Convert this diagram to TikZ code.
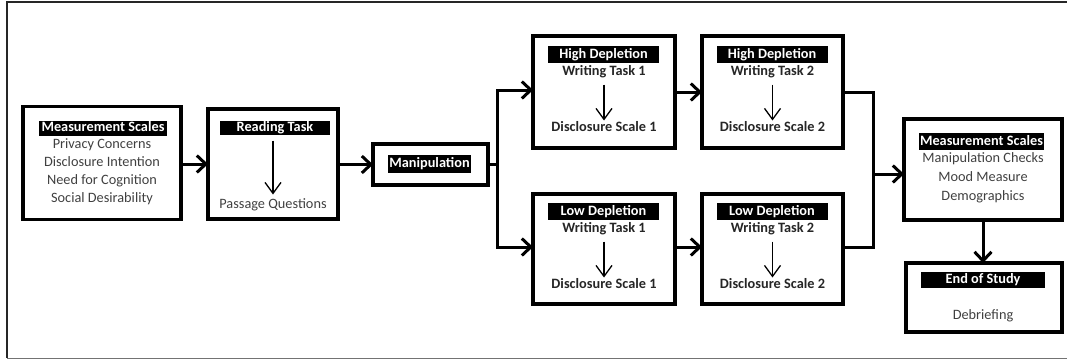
\documentclass[tikz,border=0pt]{standalone}
\usepackage{fontspec}
\setmainfont{Carlito}
\usetikzlibrary{arrows.meta}
\definecolor{txtgray}{HTML}{404040}
\tikzset{
  stagebox/.style={draw=black, line width=3.5pt, inner sep=0pt, outer sep=0pt},
  hdr/.style={fill=black, text=white, font=\fontsize{14.3}{16}\selectfont\bfseries, inner sep=0pt, outer sep=0pt, text height=10pt, text depth=3pt},
  item/.style={text=txtgray, font=\fontsize{14.3}{16}\selectfont, inner sep=0pt, outer sep=0pt, text height=10pt, text depth=3pt},
  bitem/.style={text=black!85, font=\fontsize{14.3}{16}\selectfont\bfseries, inner sep=0pt, outer sep=0pt, text height=10pt, text depth=3pt},
  link/.style={line width=3pt, black, line join=miter},
  arr/.style={line width=3pt, black, -{Straight Barb[length=9pt,width=17pt]}},
  innerarr/.style={line width=1.3pt, black, -{Straight Barb[length=11pt,width=16pt]}},
}
\begin{document}
\begin{tikzpicture}[x=1pt,y=-1pt]
\useasboundingbox (0,0) rectangle (1067,360);
% outer frame
\draw[line width=2.5pt, black!85] (1070,2) -- (7,2) -- (7,358);
\draw[line width=1pt, black!55] (7,358) -- (1070,358);

% Box 1
\node[stagebox, minimum width=158pt, minimum height=113pt] (b1) at (102,163) {};
\node[hdr, minimum width=128pt, minimum height=15pt] (h1) at (103,128) {Measurement Scales};
\node[item] (t11) at (102,145) {Privacy Concerns};
\node[item] (t12) at (102,163) {Disclosure Intention};
\node[item] (t13) at (102,181) {Need for Cognition};
\node[item] (t14) at (102,199) {Social Desirability};

% Box 2
\node[stagebox, minimum width=130pt, minimum height=110pt] (b2) at (273,164) {};
\node[hdr, minimum width=110pt, minimum height=14pt] (h2) at (275,127.5) {Reading Task};
\node[item] (pq) at (273,205) {Passage Questions};
\draw[innerarr] ([yshift=-6pt]h2.south -| pq.north) -- ([yshift=4pt]pq.north);

% Manipulation
\node[stagebox, minimum width=115pt, minimum height=41pt] (m) at (430.5,164.5) {};
\node[hdr, minimum width=83pt, minimum height=18pt] (hm) at (429.5,164) {Manipulation};

% High depletion 1
\node[stagebox, minimum width=142pt, minimum height=112pt] (hd1) at (604,92) {};
\node[hdr, minimum width=111pt, minimum height=17pt] (hh1) at (603.5,54.5) {High Depletion};
\node[bitem] (hw1) at (604,72) {Writing Task 1};
\node[bitem] (hs1) at (604,128) {Disclosure Scale 1};
\draw[innerarr] ([yshift=-6pt]hw1.south) -- ([yshift=1pt]hs1.north);

% High depletion 2
\node[stagebox, minimum width=141pt, minimum height=112pt] (hd2) at (772.5,92) {};
\node[hdr, minimum width=111pt, minimum height=17pt] (hh2) at (772,54.5) {High Depletion};
\node[bitem] (hw2) at (772.5,72) {Writing Task 2};
\node[bitem] (hs2) at (772.5,128) {Disclosure Scale 2};
\draw[innerarr] ([yshift=-6pt]hw2.south) -- ([yshift=1pt]hs2.north);

% Low depletion 1
\node[stagebox, minimum width=142pt, minimum height=110pt] (ld1) at (604,249) {};
\node[hdr, minimum width=111pt, minimum height=17pt] (lh1) at (603.5,211.5) {Low Depletion};
\node[bitem] (lw1) at (604,229) {Writing Task 1};
\node[bitem] (ls1) at (604,285) {Disclosure Scale 1};
\draw[innerarr] ([yshift=-6pt]lw1.south) -- ([yshift=1pt]ls1.north);

% Low depletion 2
\node[stagebox, minimum width=141pt, minimum height=110pt] (ld2) at (772.5,249) {};
\node[hdr, minimum width=111pt, minimum height=17pt] (lh2) at (772,211.5) {Low Depletion};
\node[bitem] (lw2) at (772.5,229) {Writing Task 2};
\node[bitem] (ls2) at (772.5,285) {Disclosure Scale 2};
\draw[innerarr] ([yshift=-6pt]lw2.south) -- ([yshift=1pt]ls2.north);

% Measurement scales 2
\node[stagebox, minimum width=158pt, minimum height=101pt] (ms2) at (983,169.5) {};
\node[hdr, minimum width=125pt, minimum height=17pt] (hms2) at (981.5,141.5) {Measurement Scales};
\node[item] (u1) at (983,159) {Manipulation Checks};
\node[item] (u2) at (983,178) {Mood Measure};
\node[item] (u3) at (983,197) {Demographics};

% End of study
\node[stagebox, minimum width=156pt, minimum height=69pt] (es) at (984,297.5) {};
\node[hdr, minimum width=124pt, minimum height=16pt] (hes) at (983,280) {End of Study};
\node[item] (db) at (983,316) {Debriefing};

% connectors
\coordinate (br) at (497,164.5);
\coordinate (jn) at (873,174);
\draw[arr] (b1.east |- b2.west) -- (b2.west);
\draw[arr] (b2.east |- m.west) -- (m.west);
\draw[link] (m.east) -- (br);
\draw[arr] (br) |- ([yshift=2pt]hd1.west);
\draw[arr] (br) |- ([yshift=2pt]ld1.west);
\draw[arr] (hd1.east) -- (hd2.west);
\draw[arr] ([yshift=2pt]ld1.east) -- ([yshift=2pt]ld2.west);
\draw[link] (hd2.east) -| (jn) |- ([yshift=2pt]ld2.east);
\draw[arr] (jn) -- (jn -| ms2.west);
\draw[arr] (ms2.south) -- (ms2.south |- es.north);
\end{tikzpicture}
\end{document}
